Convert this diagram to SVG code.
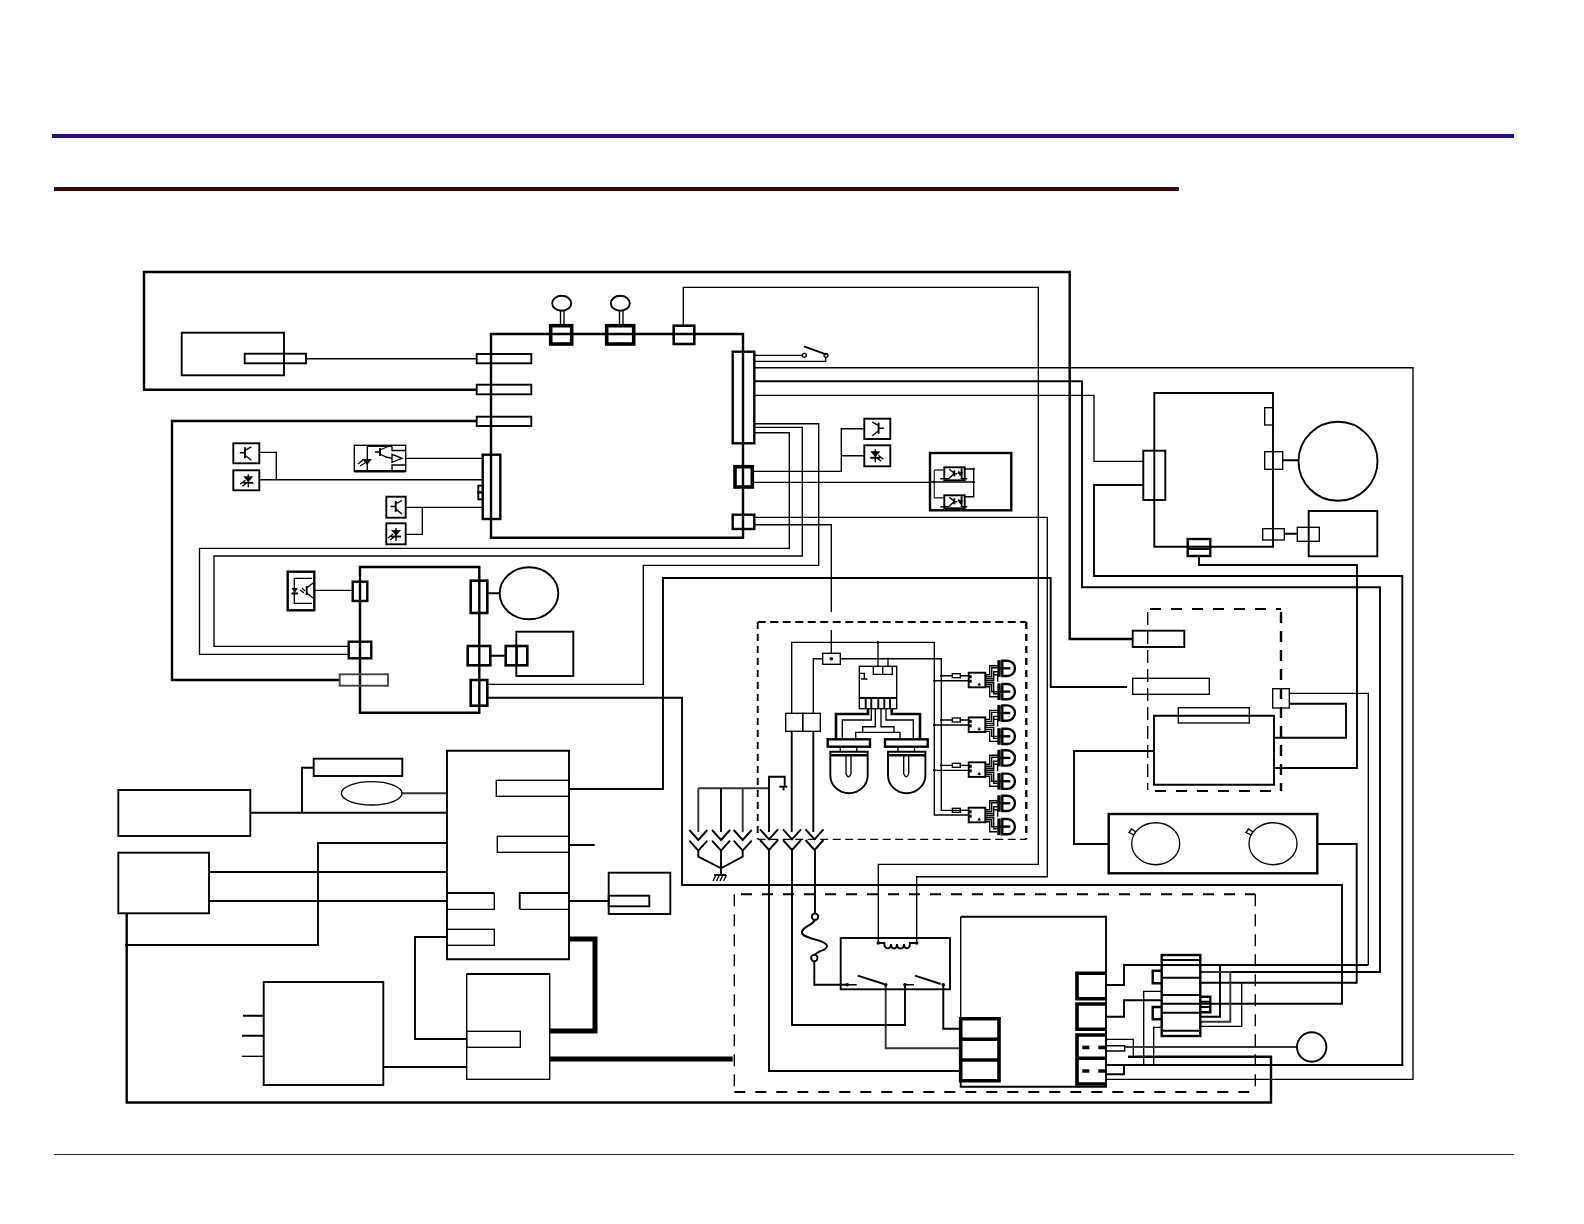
<svg xmlns="http://www.w3.org/2000/svg" width="1584" height="1224" viewBox="0 0 1584 1224">
<style>
rect,path,circle,ellipse,line{fill:none;stroke:#000}
.w1{stroke-width:1.35}
.w2{stroke-width:1.9}
.w3{stroke-width:2.4}
.w4{stroke-width:2.6}
.w6{stroke-width:3.6}
.w5{stroke-width:5}
.g{stroke:#333}
.f{fill:#000}
.n{stroke:none}
</style>
<defs>
<g id="tr"><path class="w2" d="M11.7,4V15"/><path class="w1" d="M6.5,9.5H11.7M11.7,7L18,3.5M11.7,12L18,17"/></g>
<g id="pd"><path class="w1" d="M15,4V17M7,14L12,10M9,16L13,13"/><path class="f n" d="M10,6H20L15,12Z"/><path class="w2" d="M10,12.5H20"/></g>
<g id="mini"><rect class="w2" width="20.4" height="13"/><path class="w1" d="M5,2L10,6L5,11M-4,11.5H5M17,11.5H23M10,6.5H13"/><path class="w2" d="M10,3V9"/><path class="w2 g" d="M14,4L16,7"/><path class="f n" d="M13,5H19L16,9Z"/><path class="w2" d="M17.3,1V12"/></g>
<g id="plug"><path class="w2" d="M-9,-10L0,0L9,-10M-9,0.7L0,10.7L9,0.7"/></g>
<g id="led"><rect class="f n" x="0" y="-0.5" width="3.4" height="16.5"/><path class="w3" d="M5,0H10A7.6,7.6 0 0 1 10,15.3H5Z"/><path class="w3" d="M3,7.6H13"/></g>
<g id="cluster">
<rect class="w2" width="16.6" height="14.6"/>
<rect class="f n" x="0" y="2.5" width="3" height="3"/><rect class="f n" x="0" y="7" width="3" height="3"/>
<path class="w1" d="M9,12H12M10.5,10V13"/>
<path class="w1" d="M16.6,2H21V-7H29M16.6,4H23V-5H29M16.6,6H25V-1H29M16.6,8H25V2H29V9M16.6,10H25V21H29M16.6,12H23V19H29M16.6,14H21V24H29"/>
<use href="#led" x="28.6" y="-12"/><use href="#led" x="28.6" y="11.3"/>
</g>
<g id="bulb"><path class="w2" d="M0,0H37.4V23.5A18.7,18 0 0 1 0,23.5Z"/><path class="w3" d="M0,3.5H37.4"/><path class="w1" d="M15.7,4V22Q18.2,28 20.7,22V4"/><path class="w1" d="M10,-5V0M26.5,-5V0"/></g>
</defs>

<g id="header">
<path d="M52,136H1514" style="stroke:#2a0a8c;stroke-width:4"/>
<path d="M54,189H1179" style="stroke:#3d0808;stroke-width:4"/>
<path d="M54,1154.5H1514" style="stroke:#25255a;stroke-width:1"/>
</g>

<g id="connectors">
<path class="w3" d="M476.7,389.7H144V272H1069.7V639H1132.7"/>
<path class="w1" d="M306,358.7H476.7"/>
<path class="w3" d="M476.7,421H172V680H339.7"/>
<path class="w1" d="M405.7,458.3H482.7M259.3,479.7H482.7M259.3,452.3H276.3V479.7M405.7,507.3H482.7M405.7,534.3H422.3V507.3"/>
<path class="w1" d="M683.3,325.7V287.3H1038.3V864.3H878.3V943"/>
<path class="w1" d="M754.3,517.3H1047.3V876.7H916.7V943"/>
<path class="w1" d="M754.3,355.3H802M754.3,361.3H825.7V357"/>
<path class="w1" d="M754.3,367.7H1413V1079.3H1106"/>
<path class="w2" d="M754.3,381.3H1082V587.3H1380V972H1200.3"/>
<path class="w1" d="M754.3,395.3H1094V461.3H1143.3"/>
<path class="w2" d="M1143.3,485H1094V576H1402.3V1065H1124V1074.3H1106"/>
<path class="w1" d="M754.3,423.7H818.7V565.3H643.3V684.3H487.3"/>
<path class="w1" d="M754.3,427.3H802.3V556H214V646.3H348.7"/>
<path class="w1" d="M754.3,432.7H789.3V548.3H199.5V654.3H348.7"/>
<path class="w1" d="M752.3,471.3H841.3V428.7H864.3M841.3,455.7H864.3M752.3,482.3H930"/>
<path class="w1" d="M754.3,524.7H831.3V612M831.3,630V653.3"/>
<path class="w1" d="M314.3,590.3H352.7"/>
<path class="w2" d="M487.3,593.3H499.7M490.3,655.7H505.7M1282.7,460.3H1298.3M1284.3,533.7H1297.3"/>
<path class="w2" d="M487.3,697.7H682V885H1342V1003.7H1161.7"/>
<path class="w2" d="M569,789H663V578H1050.7V687H1127"/>
<path class="w2" d="M250.3,812.7H447M302,813.7V767.7H313.7"/>
<path class="w2 g" d="M402,793.3H447"/>
<path class="w2" d="M447,843H318V945H125M209,872H447M209,901H447"/>
<path class="w2" d="M569,845H594.7M569,901H608.7"/>
<path class="w5" d="M569,939H595V1031H549.7M549.7,1059H732.7"/>
<path class="w2" d="M447,937H415V1039H466.7M383.3,1067H466.7"/>
<path class="w2" d="M243,1015.7H263.7M242,1035.7H263.7"/><path class="w1" d="M242,1056.3H263.7"/>
<path class="w3" d="M126.7,913V1102.5H1271V1056.7H1128"/>
<path class="w2" d="M1199,556V565H1357V768H1274"/>
<path class="w1" d="M1289.3,693.3H1368.3V965"/>
<path class="w2" d="M1368.3,965H1124V985H1106M1106,1016.7H1124V1000.3H1161.7"/>
<path class="w2" d="M1289.3,703.7H1346V737.7H1274"/>
<path class="w2" d="M1154,751H1074V844H1108.7M1317.3,844H1356.7V982.7H1200.3"/>
<path class="w2" d="M1220,965V1016.7H1200.3"/><path class="w2 g" d="M1200.3,972H1230.3V1021.7H1200.3"/>
<path class="w1" d="M1241.7,982.7V1026.3H1200.3M1161.7,991.3H1143.7V1064M1161.7,1027.3H1153.7V1064"/>
<path class="w1" d="M1106,1039.3H1133.3V1056.7M1106,1045.7H1124.7V1051H1106"/>
<path class="w2 g" d="M1124.7,1047H1296.7"/>
<path class="w1" d="M813.3,713.3V658.7H822.7M840.3,658.7H941.3V810.3H968.7"/>
<path class="w1" d="M791.7,713.3V642.3H934.3V815H968.7M878,642.3V666.3M888,658.7V666.3"/>
<path class="w1" d="M941.3,675.7H952.3M960.3,675.7H968.7M934.3,680.7H968.7M941.3,720H952.3M960.3,720H968.7M934.3,725H968.7M941.3,765.3H952.3M960.3,765.3H968.7M934.3,770.3H968.7M960.3,810.3H968.7"/>
<path class="w4" d="M836,739V714H868V708.7M920,739V714H891.7V708.7"/>
<path class="w1" d="M842.3,739V720H871.3V708.7M913.3,739V720H886V708.7"/>
<path class="w1" d="M855.7,739V732.3H900V739"/>
<path class="w1" d="M862.7,732.3V726.7H875.3V708.7M881,708.7V726.7H894V732.3"/>
<path class="w2" d="M791.7,731.3V832M813.3,731.3V832"/>
<path class="w2 g" d="M698.3,788.3H769M698.3,788.3V832M742.7,788.3V832"/><path class="w2" d="M721,788.3V832"/>
<path class="w2" d="M769,832V776.7H784.7V786.7M769,850V1071H960M792,850V1025H905V984.7M815,850V913"/>
<path class="w2" d="M779.3,786.7H787.3"/><path class="w2" d="M783.5,787V790.5"/>
<path class="w2" d="M698.3,850V856.7L721,868.3L742.7,856.7V850M721,850V875"/>
<path class="w2" d="M714,875H726"/><path class="w1" d="M716,875L713,881M719.5,875L716.5,881M723,875L720,881M726.5,875L723.5,881"/>
<path class="w2" d="M815,920C812,926 801,927 802,933C803,939 827,940 827,946C827,951 818,950 815,955"/>
<path class="w2" d="M814.3,961V984.7H847.3"/>
<path class="w2 g" d="M885.7,984.7V1048.3H960"/>
<path class="w2" d="M943.3,984.7V1028.7H960"/>
<path class="w2" d="M1106,1065H1124"/>
</g>

<g id="dashed">
<path class="w1" d="M734.3,894.3V1092" stroke-dasharray="12 8"/>
<path class="w2" d="M741,894.3H1255.3" stroke-dasharray="11 10"/>
<path class="w2" d="M734.3,1092H1255.3" stroke-dasharray="11 10"/>
<path class="w1" d="M1255.3,894.3V1092" stroke-dasharray="12 8"/>
<path class="w2" d="M757.7,622H1026.3" stroke-dasharray="8 4.5"/>
<path class="w2" d="M757.7,622V839.3" stroke-dasharray="7 5"/>
<path class="w3" d="M1026.3,622V839.3" stroke-dasharray="7 5"/>
<path class="w1" d="M757.7,839.3H1026.3" stroke-dasharray="8 4.5"/>
<path class="w1" d="M1147.7,612V790" stroke-dasharray="13 6"/>
<path class="w2" d="M1150,609H1281" stroke-dasharray="11 10"/>
<path class="w3" d="M1281,612V791" stroke-dasharray="11 8"/>
<path class="w2" d="M1155,791H1281" stroke-dasharray="11 10"/>
</g>

<g id="node-sensor"><rect class="w2" x="181.7" y="332.7" width="102.3" height="42.6"/><rect class="w2" x="244.7" y="353.7" width="61.3" height="9.6"/></g>
<g id="node-main">
<path class="w3" d="M491,537.7V334H743V537.7Z"/>
<rect class="w2" x="476.7" y="354" width="54.6" height="9.3"/>
<rect class="w2" x="476.7" y="384.7" width="54.6" height="9.6"/>
<rect class="w2" x="476.7" y="416.7" width="54.6" height="9.3"/>
<rect class="w3" x="482.7" y="454.7" width="17.6" height="64.3"/>
<rect class="w2" x="478.3" y="485.7" width="4.7" height="6.7"/><rect class="w2" x="478.3" y="492.4" width="4.7" height="6.9"/>
<rect class="w6" x="550.7" y="325.7" width="21" height="18.3"/>
<rect class="w6" x="606.7" y="325.7" width="27" height="18.3"/>
<rect class="w4" x="673.7" y="325.7" width="20.6" height="18.3"/>
<rect class="w3" x="732.7" y="351.7" width="21.6" height="91.6"/>
<rect class="w6" x="735" y="466.7" width="17.3" height="20.3"/>
<rect class="w3" x="732.7" y="514.7" width="21.6" height="14.3"/>
</g>
<g id="node-ball1"><ellipse class="w2" cx="561.7" cy="303.3" rx="9.5" ry="7.5"/><path class="w1" d="M560.5,311V325.7M564,311V325.7"/></g>
<g id="node-ball2"><ellipse class="w2" cx="620.3" cy="303.3" rx="9.5" ry="7.5"/><path class="w1" d="M619.5,311V325.7M623,311V325.7"/></g>
<g id="node-switch"><circle class="w1" cx="804.3" cy="355.3" r="2"/><circle class="w1" cx="826" cy="355.3" r="2"/><path class="w2" d="M804,346.3L826.7,354.7"/></g>
<g id="node-s1"><rect class="w2" x="233.3" y="443.3" width="26" height="20"/><use href="#tr" x="233.3" y="443.3"/></g>
<g id="node-s2"><rect class="w2" x="233.3" y="470.3" width="26" height="20"/><use href="#pd" x="233.3" y="470.3"/></g>
<g id="node-s3"><rect class="w2" x="386.3" y="496.7" width="19.4" height="21"/><use href="#tr" x="384" y="497"/></g>
<g id="node-s4"><rect class="w2" x="386.3" y="523.3" width="19.4" height="21"/><use href="#pd" x="381" y="524"/></g>
<g id="node-s5"><rect class="w2" x="864.3" y="418.7" width="26" height="20.3"/><use href="#tr" transform="translate(890.3,418.7) scale(-1,1)"/></g>
<g id="node-s6"><rect class="w2" x="864.3" y="445.3" width="26" height="21"/><use href="#pd" transform="translate(890.3,445.3) scale(-1,1)"/></g>
<g id="node-opto1">
<rect class="w1" x="354.3" y="445.3" width="51.4" height="26"/>
<path class="w3" d="M354.3,471.3H405.7"/>
<path class="w1" d="M367.3,445.5V471M392,445.5V450.5H405.7M392,471V465H405.7"/>
<path class="w2" d="M367,446H392"/>
<path class="w2" d="M380,448V456"/>
<path class="w1" d="M375,452H380M380,450L388,446.5M380,454L386,457L392,458.3M392,454.3V462.3L402,458.3Z"/>
<path class="f n" d="M362,459H372L367,465Z"/>
<path class="w1" d="M358,464L363,460M360,466L365,463"/>
</g>
<g id="node-opto2">
<rect class="w3" x="287.7" y="571.7" width="26.6" height="38.6"/>
<path class="w1" d="M312,578.3H294.3V603.3H312"/>
<path class="f n" d="M291.5,588H298L294.7,593Z"/><path class="w2" d="M291.5,593.5H298M306.7,586V595"/>
<path class="w1" d="M300,590L304,593M302,588L305,591M306.7,588L313,583M306.7,593L313,598"/>
</g>
<g id="node-box2">
<rect class="w3" x="930" y="453" width="81.3" height="57.3"/>
<use href="#mini" x="944.3" y="467.3"/><use href="#mini" x="944.3" y="495.3"/>
<path class="w1" d="M930,482H973.7M973.7,469V496.7H964.7M973.7,469H964.7"/>
<path class="w1 g" d="M934.3,470V497.7H944.3M934.3,470H944.3"/>
<circle class="f n" cx="934.3" cy="482" r="1.2"/><circle class="f n" cx="973.7" cy="482" r="1.2"/><circle class="f n" cx="973.7" cy="469" r="1.2"/>
</g>
<g id="node-driver">
<path class="w3" d="M360,567H479.3V712.7H360Z"/>
<rect class="w3" x="352.7" y="581.7" width="14.6" height="19.3"/>
<rect class="w3" x="348.7" y="641.7" width="22.6" height="16.6"/>
<rect class="w2" x="339.7" y="674.3" width="48.3" height="11.4" style="stroke:#444"/>
<rect class="w4" x="470.7" y="580.7" width="16.6" height="32.3"/>
<rect class="w4" x="467.7" y="646" width="22.6" height="19.3"/>
<rect class="w4" x="470.7" y="680" width="16.6" height="25.7"/>
</g>
<g id="node-motor1"><ellipse class="w2" cx="529" cy="593.3" rx="29.3" ry="26"/></g>
<g id="node-fan1"><rect class="w2" x="516.3" y="631.7" width="57" height="44.3"/><rect class="w4" x="505.7" y="646" width="21.6" height="19.3"/><path class="w3" d="M516.7,646V665"/></g>
<g id="node-rcv">
<path class="w2" d="M1154.3,546.7V393H1273V546.7Z"/>
<rect class="w2" x="1143.3" y="450.7" width="22" height="49.3"/>
<rect class="w1" x="1264.7" y="407.7" width="8.3" height="17.3"/>
<rect class="w1" x="1264.7" y="451.7" width="18" height="17.6"/>
<rect class="w1" x="1262.7" y="528.7" width="21.6" height="11.3"/>
<rect class="w3" x="1187.7" y="539" width="22.6" height="17"/>
<path class="w2" d="M1187.7,549H1210.3"/>
</g>
<g id="node-motor2"><circle class="w2" cx="1338" cy="461.3" r="39.5"/></g>
<g id="node-fan2"><rect class="w2" x="1308.7" y="511" width="68.6" height="45.3"/><rect class="w1" x="1297.3" y="527.3" width="22" height="14"/></g>
<g id="node-door">
<rect class="w2" x="1132.7" y="630.7" width="51.6" height="16.3"/>
<rect class="w1" x="1132.7" y="678.3" width="76.6" height="16"/>
<path class="w2" d="M1154,715.7H1274V784.7H1154Z"/>
<rect class="w1" x="1178.3" y="707.7" width="71" height="15.3"/>
<rect class="w1" x="1272.7" y="688.7" width="16.6" height="19.3"/>
</g>
<g id="node-motors">
<rect class="w3" x="1108.7" y="814" width="208.6" height="59.3"/>
<ellipse class="w1" cx="1155.7" cy="843.7" rx="24" ry="21"/><ellipse class="w1" cx="1273" cy="843.7" rx="24" ry="21"/>
<path class="w1" d="M1134,835L1129,832.5L1131.5,829L1136,832M1251,835L1246,832.5L1248.5,829L1253,832"/>
</g>
<g id="node-lamps">
<rect class="w1" x="822.7" y="653.3" width="17.6" height="11"/>
<circle class="f n" cx="831.3" cy="658.7" r="1.8"/><circle class="f n" cx="878" cy="642.3" r="1.2"/><circle class="f n" cx="888" cy="658.7" r="1.2"/>
<rect class="w1" x="859.3" y="666.3" width="37.4" height="42.4"/>
<path class="w1" d="M873.3,666.3V674.3H892.3V666.3M882.7,666.3V674.3"/>
<path class="w2" d="M859.3,698H896.7M865.7,698V708.7M871.3,698V708.7M878.3,698V708.7M884.3,698V708.7M890,698V708.7"/>
<path class="w1" d="M860,673.3H864.3V679M861,679H867.5"/>
<rect class="w1" x="785.7" y="713.3" width="17" height="18"/><rect class="w1" x="802.7" y="713.3" width="17.6" height="18"/>
<rect class="w3" x="827.7" y="739.3" width="42.3" height="7.4"/><rect class="w3" x="885" y="739.3" width="42.7" height="7.4"/>
<use href="#bulb" x="830.3" y="751.7"/><use href="#bulb" x="888" y="751.7"/>
<use href="#cluster" x="968.7" y="672.7"/><use href="#cluster" x="968.7" y="717.4"/><use href="#cluster" x="968.7" y="762.3"/><use href="#cluster" x="968.7" y="807.7"/>
<rect class="w1" x="952.3" y="673.7" width="8" height="4"/><rect class="w1" x="952.3" y="718" width="8" height="4"/><rect class="w1" x="952.3" y="763.3" width="8" height="4"/><rect class="w1" x="952.3" y="808.3" width="8" height="4"/>
<circle class="f n" cx="941.3" cy="675.7" r="1.3"/><circle class="f n" cx="934.3" cy="680.7" r="1.3"/><circle class="f n" cx="941.3" cy="720" r="1.3"/><circle class="f n" cx="934.3" cy="725" r="1.3"/><circle class="f n" cx="941.3" cy="765.3" r="1.3"/><circle class="f n" cx="934.3" cy="770.3" r="1.3"/>
</g>
<g id="node-plugs">
<use href="#plug" x="698.3" y="840"/><use href="#plug" x="721" y="840"/><use href="#plug" x="742.7" y="840"/>
<use href="#plug" x="769" y="839.3"/><use href="#plug" x="792" y="839.3"/><use href="#plug" x="814.5" y="839.3"/>
</g>
<g id="node-fuse"><circle class="w2" cx="815" cy="916.7" r="3.2"/><circle class="w2" cx="814.3" cy="958" r="3.2"/></g>
<g id="node-relay">
<rect class="w2" x="840.7" y="938" width="109.3" height="51.3"/>
<path class="w2" d="M878.3,943H884.3C884.3,950 891,950 891,944C891,950 897,950 897,944C897,950 904,950 904,944C904,950 910,950 910,943H916.7"/>
<circle class="f n" cx="878.3" cy="943" r="1.8"/><circle class="f n" cx="916.7" cy="943" r="1.8"/>
<path class="w1" d="M847.3,984.7H856.7M905,984.7H914"/>
<path class="w2" d="M857.7,975.7L884,984M915,975.7L940.7,984"/>
<circle class="f n" cx="847.3" cy="984.7" r="1.8"/><circle class="f n" cx="885.7" cy="984.7" r="1.8"/><circle class="f n" cx="905" cy="984.7" r="1.8"/><circle class="f n" cx="943.3" cy="984.7" r="1.8"/>
</g>
<g id="node-psu">
<path class="w1" d="M960.7,1018.7V916.7"/><path class="w2" d="M960.7,916.7H1106V1086.7H960.7V1081"/>
<path class="w6" d="M960.7,1018.7H999V1080.7H960.7ZM960.7,1039.3H999M960.7,1060H999"/>
<path class="w6" d="M1106,973.3H1077V998.7H1106M1106,1004H1077V1029.3H1106M1106,1035H1077V1058.3H1106M1077,1058.3V1084H1106"/>
<rect class="f n" x="1082.3" y="1045.7" width="7" height="3.6"/><rect class="f n" x="1098.3" y="1045.7" width="7.7" height="3.6"/>
<rect class="f n" x="1082.3" y="1069.3" width="7" height="3.4"/><rect class="f n" x="1098.3" y="1069.3" width="7.7" height="3.4"/>
</g>
<g id="node-conn">
<rect class="w3" x="1161.7" y="955" width="38.6" height="81"/>
<path class="w2" d="M1161.7,960H1200.3M1161.7,977.7H1200.3M1161.7,995H1200.3M1161.7,1012.7H1200.3M1161.7,1030.7H1200.3"/>
<path class="w3" d="M1161.7,970.7H1152.7V983.3H1161.7M1161.7,1007H1152.7V1019.3H1161.7M1200.3,996.7H1210.3V1012.3H1200.3"/>
<path class="w2" d="M1200.3,1001.7H1210.3M1200.3,1007H1210.3"/>
</g>
<g id="node-lamp"><circle class="w2" cx="1311.7" cy="1047" r="14.7"/></g>
<g id="node-b1"><rect class="w2" x="118.3" y="790" width="132" height="46"/></g>
<g id="node-b2"><rect class="w2" x="118.3" y="852.7" width="90.7" height="60.6"/></g>
<g id="node-b3"><rect class="w2" x="313.7" y="758.7" width="88.6" height="17.3"/></g>
<g id="node-b4"><ellipse class="w1" cx="371.7" cy="793.3" rx="30.3" ry="11.7"/></g>
<g id="node-b5"><rect class="w2" x="263.7" y="982" width="119.6" height="103"/></g>
<g id="node-ctrl">
<path class="w2" d="M447,750.7H569V959.3H447Z"/>
<rect class="w1" x="496.3" y="780.3" width="72.7" height="16"/>
<rect class="w1" x="497.3" y="836.3" width="71.7" height="16"/>
<path class="w2" d="M447,893H494.3"/><path class="w1" d="M494.3,893V909.3H447"/>
<path class="w2" d="M569,893H519.7V909.3"/><path class="w1" d="M519.7,909.3H569"/>
<rect class="w1" x="447" y="929.3" width="47.3" height="16"/>
</g>
<g id="node-b6"><rect class="w2" x="608.7" y="872.7" width="61.6" height="41.3"/><rect class="w2" x="608.7" y="895.7" width="40.6" height="10.6"/></g>
<g id="node-b7"><rect class="w1" x="466.7" y="974" width="83" height="105.3"/><path class="w2" d="M466.7,974H549.7"/><rect class="w1" x="466.7" y="1031.3" width="53.6" height="16"/></g>
</svg>
